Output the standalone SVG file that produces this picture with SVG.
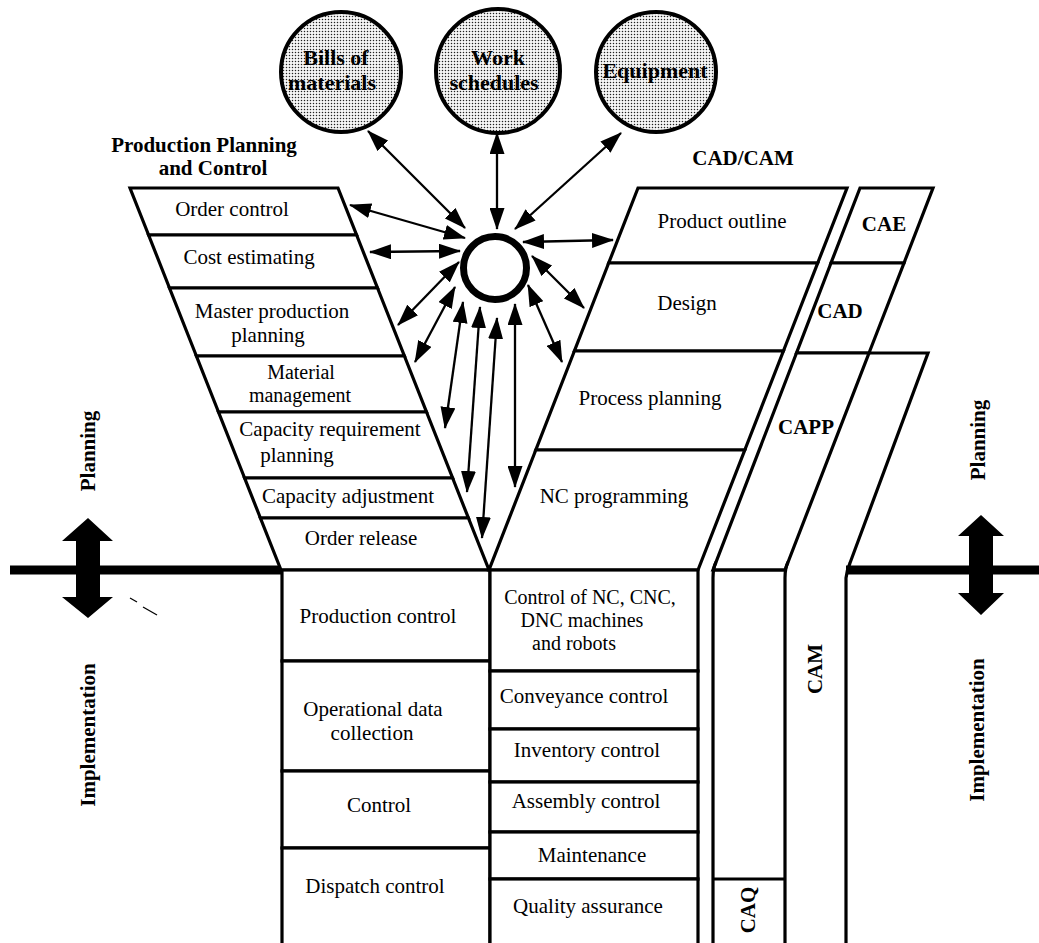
<svg xmlns="http://www.w3.org/2000/svg" width="1039" height="943" viewBox="0 0 1039 943">
  <defs>
    <pattern id="halftone" width="3" height="3" patternUnits="userSpaceOnUse">
      <rect width="3" height="3" fill="#f6f6f6"/>
      <circle cx="1.5" cy="1.5" r="0.75" fill="#222"/>
    </pattern>
    <marker id="ah" viewBox="0 0 22 15" refX="21" refY="7.5" markerWidth="22" markerHeight="15" markerUnits="userSpaceOnUse" orient="auto-start-reverse">
      <path d="M0,0 L22,7.5 L0,15 z" fill="#000"/>
    </marker>
    <style>
      .cell { fill: #fff; stroke: #000; stroke-width: 3.2; stroke-linejoin: miter; }
      .edge { fill: none; stroke: #000; stroke-width: 3.2; }
      .t { font-family: "Liberation Serif", "Times New Roman", serif; font-size: 21px; fill: #000; text-anchor: middle; }
      .s { font-size: 20px; }
      .b { font-family: "Liberation Serif", "Times New Roman", serif; font-size: 21px; font-weight: bold; fill: #000; text-anchor: middle; }
      .db { font-family: "Liberation Serif", "Times New Roman", serif; font-size: 22px; font-weight: bold; fill: #000; text-anchor: middle; }
      .data { fill: url(#halftone); stroke: #000; stroke-width: 4; }
      .link { stroke: #000; stroke-width: 2.3; fill: none; marker-start: url(#ah); marker-end: url(#ah); }
      .ground { stroke: #000; stroke-width: 9; }
      .bigarrow { fill: #000; }
    </style>
  </defs>

  <rect width="1039" height="943" fill="#fff"/>

  <!-- Planning / implementation boundary -->
  <g id="boundary">
    <line class="ground" x1="10" y1="570" x2="283" y2="570"/>
    <line class="ground" x1="846" y1="570" x2="1039" y2="570"/>
    <polygon class="bigarrow" points="88,518 113,541 100,541 100,597 113,597 88,618 62,597 76,597 76,541 62,541"/>
    <polygon class="bigarrow" points="981,515 1004,536 993,536 993,593 1004,593 981,615 958,593 969,593 969,536 958,536"/>
    <line x1="130" y1="598" x2="137" y2="602" stroke="#000" stroke-width="1.2"/>
    <line x1="143" y1="607" x2="157" y2="615" stroke="#000" stroke-width="1.2"/>
    <text class="b" transform="translate(88,451) rotate(-90)" dy="7">Planning</text>
    <text class="b" transform="translate(978,440) rotate(-90)" dy="7">Planning</text>
    <text class="b" transform="translate(88,735) rotate(-90)" dy="7">Implementation</text>
    <text class="b" transform="translate(977,730) rotate(-90)" dy="7">Implementation</text>
  </g>

  <!-- Production planning and control funnel -->
  <g id="ppc">
    <text class="b" x="204" y="152">Production Planning</text>
    <text class="b" x="213" y="175">and Control</text>
    <g id="order-control">
      <polygon class="cell" points="130,188 338,188 356.6,235 148.6,235"/>
      <text class="t" x="232" y="216">Order control</text>
    </g>
    <g id="cost-estimating">
      <polygon class="cell" points="148.6,235 356.6,235 377.5,288 169.5,288"/>
      <text class="t" x="249" y="264">Cost estimating</text>
    </g>
    <g id="master-production-planning">
      <polygon class="cell" points="169.5,288 377.5,288 404.4,356 196.4,356"/>
      <text class="t" x="272" y="318">Master production</text>
      <text class="t" x="268" y="342">planning</text>
    </g>
    <g id="material-management">
      <polygon class="cell" points="196.4,356 404.4,356 426.5,412 218.5,412"/>
      <text class="t s" x="301" y="379">Material</text>
      <text class="t s" x="300" y="402">management</text>
    </g>
    <g id="capacity-requirement-planning">
      <polygon class="cell" points="218.5,412 426.5,412 452.6,478 244.6,478"/>
      <text class="t" x="330" y="436">Capacity requirement</text>
      <text class="t" x="297" y="462">planning</text>
    </g>
    <g id="capacity-adjustment">
      <polygon class="cell" points="244.6,478 452.6,478 468.4,518 260.4,518"/>
      <text class="t" x="348" y="503">Capacity adjustment</text>
    </g>
    <g id="order-release">
      <polygon class="cell" points="260.4,518 468.4,518 489,570 281,570"/>
      <text class="t" x="361" y="545">Order release</text>
    </g>
  </g>

  <!-- PPC implementation column -->
  <g id="ppc-implementation">
    <g id="production-control">
      <rect class="cell" x="282" y="570" width="208" height="91"/>
      <text class="t" x="378" y="623">Production control</text>
    </g>
    <g id="operational-data-collection">
      <rect class="cell" x="282" y="661" width="208" height="110"/>
      <text class="t" x="373" y="716">Operational data</text>
      <text class="t" x="372" y="740">collection</text>
    </g>
    <g id="control">
      <rect class="cell" x="282" y="771" width="208" height="77"/>
      <text class="t" x="379" y="812">Control</text>
    </g>
    <g id="dispatch-control">
      <rect class="cell" x="282" y="848" width="208" height="110"/>
      <text class="t" x="375" y="893">Dispatch control</text>
    </g>
  </g>

  <!-- CAD/CAM funnel -->
  <g id="cadcam">
    <text class="b" x="743" y="165">CAD/CAM</text>
    <g id="product-outline">
      <polygon class="cell" points="638,188 847,188 817.7,263 608.7,263"/>
      <text class="t" x="722" y="228">Product outline</text>
    </g>
    <g id="design">
      <polygon class="cell" points="608.7,263 817.7,263 783.4,351 574.4,351"/>
      <text class="t" x="687" y="310">Design</text>
    </g>
    <g id="process-planning">
      <polygon class="cell" points="574.4,351 783.4,351 744.8,450 535.8,450"/>
      <text class="t" x="650" y="405">Process planning</text>
    </g>
    <g id="nc-programming">
      <polygon class="cell" points="535.8,450 744.8,450 698,570 489,570"/>
      <text class="t" x="614" y="503">NC programming</text>
    </g>
  </g>

  <!-- CAM implementation column -->
  <g id="cam-implementation">
    <g id="machine-control">
      <rect class="cell" x="490" y="570" width="208" height="101"/>
      <text class="t s" x="590" y="604">Control of NC, CNC,</text>
      <text class="t s" x="582" y="627">DNC machines</text>
      <text class="t s" x="574" y="650">and robots</text>
    </g>
    <g id="conveyance-control">
      <rect class="cell" x="490" y="671" width="208" height="58"/>
      <text class="t" x="584" y="703">Conveyance control</text>
    </g>
    <g id="inventory-control">
      <rect class="cell" x="490" y="729" width="208" height="53"/>
      <text class="t" x="587" y="757">Inventory control</text>
    </g>
    <g id="assembly-control">
      <rect class="cell" x="490" y="782" width="208" height="50"/>
      <text class="t" x="586" y="808">Assembly control</text>
    </g>
    <g id="maintenance">
      <rect class="cell" x="490" y="832" width="208" height="47"/>
      <text class="t" x="592" y="862">Maintenance</text>
    </g>
    <g id="quality-assurance">
      <rect class="cell" x="490" y="879" width="208" height="80"/>
      <text class="t" x="588" y="913">Quality assurance</text>
    </g>
  </g>

  <!-- CAE / CAD / CAPP strip and CAM / CAQ column -->
  <g id="cax-strip">
    <g id="cae">
      <polygon class="cell" points="860,188 933,188 904,263 831,263"/>
      <text class="b" x="884" y="231">CAE</text>
    </g>
    <g id="cad">
      <polygon class="cell" points="831,263 904,263 869,353 796.5,353"/>
      <text class="b" x="840" y="318">CAD</text>
    </g>
    <g id="capp">
      <polygon class="cell" points="796.5,353 869,353 785,570 713,570"/>
      <path class="edge" d="M869,353 L928,353 L850,563 Q847,570 846,578 L846,945"/>
      <text class="b" x="806" y="434">CAPP</text>
    </g>
    <g id="cam">
      <path class="edge" d="M716,562 Q713,568 713,578 L713,945"/>
      <path class="edge" d="M788,562 Q785,568 785,578 L785,945"/>
      <line class="edge" x1="713" y1="570" x2="785" y2="570"/>
      <text class="b" transform="translate(815,669) rotate(-90)" dy="7">CAM</text>
    </g>
    <g id="caq">
      <line class="edge" x1="713" y1="879" x2="785" y2="879"/>
      <text class="b" transform="translate(748,910) rotate(-90)" dy="7">CAQ</text>
    </g>
  </g>

  <!-- Shared data stores -->
  <g id="bills-of-materials">
    <circle class="data" cx="341" cy="72" r="60"/>
    <text class="db" x="336" y="65">Bills of</text>
    <text class="db" x="332" y="90">materials</text>
  </g>
  <g id="work-schedules">
    <circle class="data" cx="498" cy="71" r="62"/>
    <text class="db" x="498" y="65">Work</text>
    <text class="db" x="494" y="90">schedules</text>
  </g>
  <g id="equipment">
    <circle class="data" cx="656" cy="72" r="60"/>
    <text class="db" x="655" y="78">Equipment</text>
  </g>

  <!-- Data exchange links around the central database -->
  <g id="connectors">
    <line class="link" x1="465" y1="228" x2="368" y2="131"/>
    <line class="link" x1="497" y1="229" x2="497" y2="133"/>
    <line class="link" x1="515" y1="229" x2="621" y2="133"/>
    <line class="link" x1="465" y1="238" x2="350" y2="205"/>
    <line class="link" x1="460" y1="251" x2="370" y2="252"/>
    <line class="link" x1="459" y1="262" x2="398" y2="325"/>
    <line class="link" x1="455" y1="287" x2="415" y2="362"/>
    <line class="link" x1="463" y1="302" x2="445" y2="428"/>
    <line class="link" x1="480" y1="307" x2="467" y2="492"/>
    <line class="link" x1="497" y1="318" x2="482" y2="538"/>
    <line class="link" x1="515" y1="304" x2="515" y2="487"/>
    <line class="link" x1="528" y1="285" x2="562" y2="362"/>
    <line class="link" x1="532" y1="256" x2="584" y2="308"/>
    <line class="link" x1="523" y1="242" x2="613" y2="240"/>
  </g>

  <!-- Central database -->
  <g id="hub">
    <circle cx="495" cy="268" r="31.5" fill="#fff" stroke="#000" stroke-width="7"/>
  </g>
</svg>
